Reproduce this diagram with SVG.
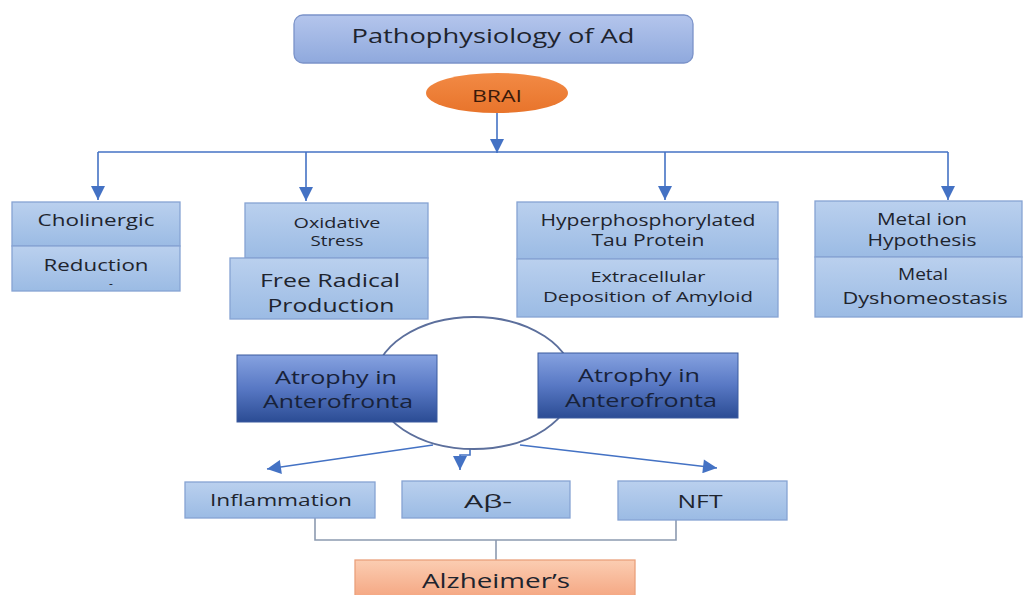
<svg xmlns="http://www.w3.org/2000/svg" width="1024" height="595" viewBox="0 0 1024 595">
<defs>
<linearGradient id="gBlue" x1="0" y1="0" x2="0" y2="1"><stop offset="0" stop-color="#bad0ee"/><stop offset="1" stop-color="#9bbbe4"/></linearGradient>
<linearGradient id="gTitle" x1="0" y1="0" x2="0" y2="1"><stop offset="0" stop-color="#b4c5ec"/><stop offset="1" stop-color="#8fa9dd"/></linearGradient>
<linearGradient id="gDark" x1="0" y1="0" x2="0" y2="1"><stop offset="0" stop-color="#86a2e0"/><stop offset="0.5" stop-color="#5878c4"/><stop offset="1" stop-color="#2b4c94"/></linearGradient>
<linearGradient id="gOrange" x1="0" y1="0" x2="0" y2="1"><stop offset="0" stop-color="#f28a45"/><stop offset="1" stop-color="#e8742b"/></linearGradient>
<linearGradient id="gSalmon" x1="0" y1="0" x2="0" y2="1"><stop offset="0" stop-color="#fbcdb2"/><stop offset="1" stop-color="#f4a47f"/></linearGradient>
<marker id="ahb" viewBox="0 0 10 10" refX="10" refY="5" markerWidth="15" markerHeight="14" orient="auto" markerUnits="userSpaceOnUse">
<path d="M0,0 L10,5 L0,10 Z" fill="#4472c4"/>
</marker>
</defs>
<style>
text{font-family:"Open Sans","Liberation Sans",sans-serif;font-weight:500;fill:#1e242e;text-anchor:middle}
.box{fill:url(#gBlue);stroke:#86a3d3;stroke-width:1.3}
.dark{fill:url(#gDark);stroke:#3a5a9e;stroke-width:1}
.ln{fill:none;stroke:#4472c4;stroke-width:1.6}
.gl{fill:none;stroke:#8c9ab0;stroke-width:1.6}
.dt{fill:#18223a}
</style>
<rect width="1024" height="595" fill="#ffffff"/>

<g id="connectors">
<line class="ln" x1="497" y1="113" x2="497" y2="153" marker-end="url(#ahb)"/>
<line class="ln" x1="98" y1="152" x2="948" y2="152"/>
<line class="ln" x1="98" y1="152" x2="98" y2="200" marker-end="url(#ahb)"/>
<line class="ln" x1="306" y1="152" x2="306" y2="201" marker-end="url(#ahb)"/>
<line class="ln" x1="665" y1="152" x2="665" y2="200" marker-end="url(#ahb)"/>
<line class="ln" x1="948" y1="152" x2="948" y2="200" marker-end="url(#ahb)"/>
<line class="ln" x1="433" y1="445" x2="267" y2="469" marker-end="url(#ahb)"/>
<polyline class="ln" points="470,449 470,455 460,455 460,470" marker-end="url(#ahb)"/>
<line class="ln" x1="520" y1="445" x2="717" y2="468" marker-end="url(#ahb)"/>
<polyline class="gl" points="315,518 315,540 676,540 676,520"/>
<line class="gl" x1="496" y1="540" x2="496" y2="560"/>
</g>

<g id="title">
<rect x="294" y="15" width="399" height="48" rx="9" fill="url(#gTitle)" stroke="#7b93c9" stroke-width="1.3"/>
<text x="493" y="43" font-size="20" textLength="283" lengthAdjust="spacingAndGlyphs">Pathophysiology of Ad</text>
</g>

<g id="brai">
<ellipse cx="497" cy="93" rx="71" ry="20" fill="url(#gOrange)"/>
<text x="497" y="102" font-size="16.5" textLength="50" lengthAdjust="spacingAndGlyphs" style="fill:#3a1a0a">BRAI</text>
</g>

<g id="cholinergic">
<rect class="box" x="12" y="202" width="168" height="44"/>
<rect class="box" x="12" y="246" width="168" height="45"/>
<text x="96" y="226" font-size="15.5" textLength="117" lengthAdjust="spacingAndGlyphs">Cholinergic</text>
<text x="96" y="271" font-size="15.5" textLength="105" lengthAdjust="spacingAndGlyphs">Reduction</text>
<text x="111" y="288" font-size="12">-</text>
</g>

<g id="oxidative">
<rect class="box" x="245" y="203" width="183" height="55"/>
<rect class="box" x="230" y="258" width="198" height="61"/>
<text x="337" y="228" font-size="14" textLength="87" lengthAdjust="spacingAndGlyphs">Oxidative</text>
<text x="337" y="246" font-size="14" textLength="53" lengthAdjust="spacingAndGlyphs">Stress</text>
<text x="330" y="287" font-size="19" textLength="140" lengthAdjust="spacingAndGlyphs">Free Radical</text>
<text x="331" y="312" font-size="19" textLength="127" lengthAdjust="spacingAndGlyphs">Production</text>
</g>

<g id="tau">
<rect class="box" x="517" y="202" width="261" height="57"/>
<rect class="box" x="517" y="259" width="261" height="58"/>
<text x="648" y="226" font-size="16" textLength="215" lengthAdjust="spacingAndGlyphs">Hyperphosphorylated</text>
<text x="648" y="246" font-size="16" textLength="113" lengthAdjust="spacingAndGlyphs">Tau Protein</text>
<text x="648" y="282" font-size="14" textLength="115" lengthAdjust="spacingAndGlyphs">Extracellular</text>
<text x="648" y="302" font-size="14" textLength="210" lengthAdjust="spacingAndGlyphs">Deposition of Amyloid</text>
</g>

<g id="metal">
<rect class="box" x="815" y="201" width="207" height="56"/>
<rect class="box" x="815" y="257" width="207" height="60"/>
<text x="922" y="225" font-size="16" textLength="90" lengthAdjust="spacingAndGlyphs">Metal ion</text>
<text x="922" y="246" font-size="16" textLength="109" lengthAdjust="spacingAndGlyphs">Hypothesis</text>
<text x="923" y="280" font-size="16" textLength="50" lengthAdjust="spacingAndGlyphs">Metal</text>
<text x="925" y="304" font-size="16" textLength="165" lengthAdjust="spacingAndGlyphs">Dyshomeostasis</text>
</g>

<g id="cycle">
<ellipse cx="474" cy="383" rx="100" ry="66" fill="none" stroke="#5c6f9c" stroke-width="1.8"/>
</g>

<g id="atrophy-left">
<rect class="dark" x="237" y="355" width="200" height="67"/>
<text class="dt" x="336" y="384" font-size="18" textLength="122" lengthAdjust="spacingAndGlyphs">Atrophy in</text>
<text class="dt" x="338" y="408" font-size="18" textLength="150" lengthAdjust="spacingAndGlyphs">Anterofronta</text>
</g>

<g id="atrophy-right">
<rect class="dark" x="538" y="353" width="200" height="65"/>
<text class="dt" x="639" y="382" font-size="18" textLength="122" lengthAdjust="spacingAndGlyphs">Atrophy in</text>
<text class="dt" x="641" y="407" font-size="18" textLength="152" lengthAdjust="spacingAndGlyphs">Anterofronta</text>
</g>

<g id="inflammation">
<rect class="box" x="185" y="482" width="190" height="36"/>
<text x="281" y="506" font-size="16" textLength="142" lengthAdjust="spacingAndGlyphs">Inflammation</text>
</g>

<g id="abeta">
<rect class="box" x="402" y="481" width="168" height="37"/>
<text x="488" y="508" font-size="19" textLength="48" lengthAdjust="spacingAndGlyphs">Aβ-</text>
</g>

<g id="nft">
<rect class="box" x="618" y="481" width="169" height="39"/>
<text x="700" y="508" font-size="19" textLength="45" lengthAdjust="spacingAndGlyphs">NFT</text>
</g>

<g id="alzheimers">
<rect x="355" y="560" width="280" height="40" fill="url(#gSalmon)" stroke="#eaa07c" stroke-width="1.3"/>
<text x="496" y="588" font-size="20" textLength="148" lengthAdjust="spacingAndGlyphs">Alzheimer’s</text>
</g>
</svg>
